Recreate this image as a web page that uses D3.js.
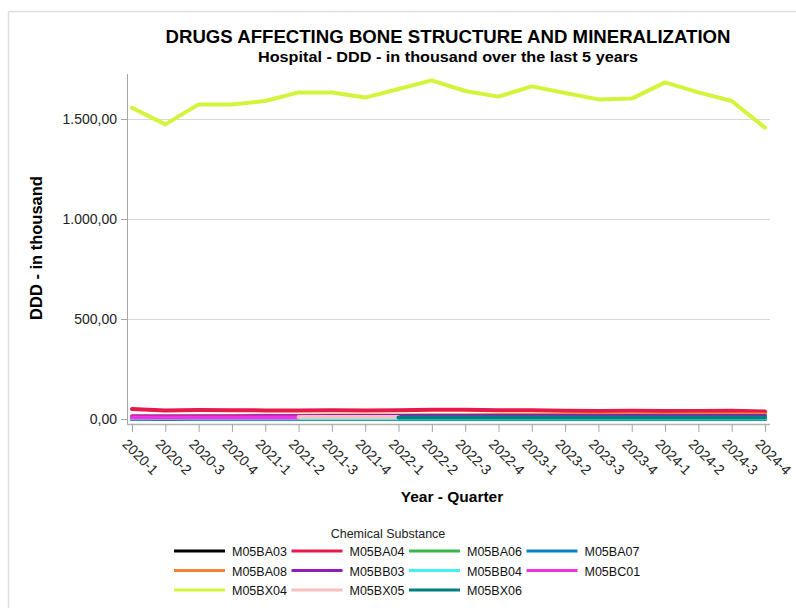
<!DOCTYPE html>
<html><head><meta charset="utf-8">
<script src="https://cdn.jsdelivr.net/npm/d3@7"></script>
<style>body{margin:0;background:#fff;font-family:"Liberation Sans",Arial,sans-serif}</style>
</head><body>
<svg id="c" width="796" height="608"></svg>
<script>
const quarters = ["2020-1","2020-2","2020-3","2020-4","2021-1","2021-2","2021-3","2021-4","2022-1","2022-2","2022-3","2022-4","2023-1","2023-2","2023-3","2023-4","2024-1","2024-2","2024-3","2024-4"];
const seriesNames = ["M05BA03","M05BA04","M05BA06","M05BA07","M05BA08","M05BB03","M05BB04","M05BC01","M05BX04","M05BX05","M05BX06"];
const seriesColors = ["#000000","#e6194b","#3cb44b","#0082c8","#f58231","#911eb4","#46f0f0","#f032e6","#d2f53c","#fabebe","#008080"];
const M05BA03 = [0.5,0.5,0.5,0.5,0.5,0.5,0.5,0.5,0.5,0.5,0.5,0.5,0.5,0.5,0.5,0.5,0.5,0.5,0.5,0.5];
const M05BA04 = [50,43,45,44,43,42,44,43,44,46,46,44,44,41,40,41,40,40,41,37];
const M05BA06 = [1,1,1,1,1,1,1,1,1,1,1,1,1,1,1,1,1,1,1,1];
const M05BA07 = [2,2,2,2,2,2,2,2,2,2,2,2,2,2,2,2,2,2,2,2];
const M05BA08 = [14,14,15,15,16,16,17,17,18,19,19,20,20,20,21,21,21,22,22,22];
const M05BB03 = [12,12,13,13,14,14,15,15,15,15,15,15,15,15,15,15,15,15,15,15];
const M05BB04 = [4,5,4,4,4,4,4,4,4,4,4,4,4,4,4,4,4,4,4,4];
const M05BC01 = [8,8,8,8,8,8,null,null,null,null,null,null,null,null,null,null,null,null,null,null];
const M05BX04 = [1556,1473,1573,1573,1590,1633,1633,1607,1650,1693,1640,1612,1663,1630,1598,1602,1683,1633,1590,1457];
const M05BX05 = [null,null,null,null,null,10,10,10,10,null,null,null,null,null,null,null,null,null,null,null];
const M05BX06 = [null,null,null,null,null,null,null,null,8,8,8,8,8,8,8,8,8,8,8,8];
const seriesValues = [M05BA03,M05BA04,M05BA06,M05BA07,M05BA08,M05BB03,M05BB04,M05BC01,M05BX04,M05BX05,M05BX06];
const yTicks = [0,500,1000,1500];

const svg = d3.select("#c");
// frame
svg.append("line").attr("x1",8.5).attr("x2",796).attr("y1",11.5).attr("y2",11.5).attr("stroke","#ddd").attr("stroke-width",1.5);
svg.append("line").attr("x1",8.5).attr("x2",8.5).attr("y1",11.5).attr("y2",608).attr("stroke","#ddd").attr("stroke-width",1.5);

const x = d3.scalePoint().domain(quarters).range([132,765]);
const y = d3.scaleLinear().domain([0,1725]).range([419,74]);

svg.append("text").attr("x",448).attr("y",43).attr("text-anchor","middle")
  .attr("font-size",18.5).attr("font-weight","bold").attr("fill","#000")
  .attr("textLength",565).attr("lengthAdjust","spacingAndGlyphs")
  .text("DRUGS AFFECTING BONE STRUCTURE AND MINERALIZATION");
svg.append("text").attr("x",448).attr("y",62).attr("text-anchor","middle")
  .attr("font-size",15).attr("font-weight","bold").attr("fill","#000")
  .attr("textLength",380).attr("lengthAdjust","spacingAndGlyphs")
  .text("Hospital - DDD - in thousand over the last 5 years");

// grid
svg.append("g").selectAll("line").data(yTicks.slice(1)).join("line")
  .attr("x1",127).attr("x2",770).attr("y1",d=>y(d)+0.5).attr("y2",d=>y(d)+0.5)
  .attr("stroke","#d9d9d9").attr("stroke-width",1);

const fmt = d => d3.format(",.2f")(d).replace(/,/g,"X").replace(/\./g,",").replace(/X/g,".");
const yAxis = svg.append("g").attr("transform","translate(127,0)")
  .call(d3.axisLeft(y).tickValues(yTicks).tickSize(6).tickPadding(4).tickFormat(fmt));
yAxis.select(".domain").attr("stroke","#a6a6a6").attr("d","M0.5,74V425");
yAxis.selectAll(".tick line").attr("stroke","#a6a6a6");
yAxis.selectAll(".tick text").attr("font-size",14).attr("fill","#222").attr("font-family","Liberation Sans, Arial, sans-serif");

const xAxis = svg.append("g").attr("transform","translate(0,424)")
  .call(d3.axisBottom(x).tickSize(8).tickPadding(4));
xAxis.select(".domain").attr("stroke","#b3b3b3").attr("stroke-width",1.5).attr("d","M127,0.5H770");
xAxis.selectAll(".tick line").attr("stroke","#a6a6a6");
xAxis.selectAll(".tick text").attr("font-size",14).attr("fill","#222")
  .attr("font-family","Liberation Sans, Arial, sans-serif")
  .attr("text-anchor","start").attr("dy","0").attr("y",0)
  .attr("transform","translate(-11,21) rotate(45)");

svg.append("text").attr("transform","translate(42,248) rotate(-90)").attr("text-anchor","middle")
  .attr("font-size",16.5).attr("font-weight","bold").text("DDD - in thousand");
svg.append("text").attr("x",452).attr("y",502).attr("text-anchor","middle")
  .attr("font-size",15.5).attr("font-weight","bold").text("Year - Quarter");

// lines
const line = d3.line().defined(d=>d!=null).x((d,i)=>x(quarters[i])).y(d=>y(d));
const g = svg.append("g");
seriesValues.forEach((vals,k)=>{
  g.append("path").datum(vals).attr("d",line).attr("fill","none")
   .attr("stroke",seriesColors[k]).attr("stroke-width",4).attr("stroke-linejoin","round").attr("stroke-linecap","round");
});

// legend
svg.append("text").attr("x",388).attr("y",538).attr("text-anchor","middle").attr("font-size",12.5).attr("fill","#222").text("Chemical Substance");
const leg = svg.append("g").selectAll("g").data(seriesNames).join("g")
  .attr("transform",(d,i)=>`translate(${174+(i%4)*117.5},${551+Math.floor(i/4)*19.5})`);
leg.append("line").attr("x1",0).attr("x2",51).attr("y1",0).attr("y2",0)
  .attr("stroke",(d,i)=>seriesColors[i]).attr("stroke-width",3);
leg.append("text").attr("x",58).attr("y",5).attr("font-size",12.5).attr("fill","#111").text(d=>d);
</script>
</body></html>
